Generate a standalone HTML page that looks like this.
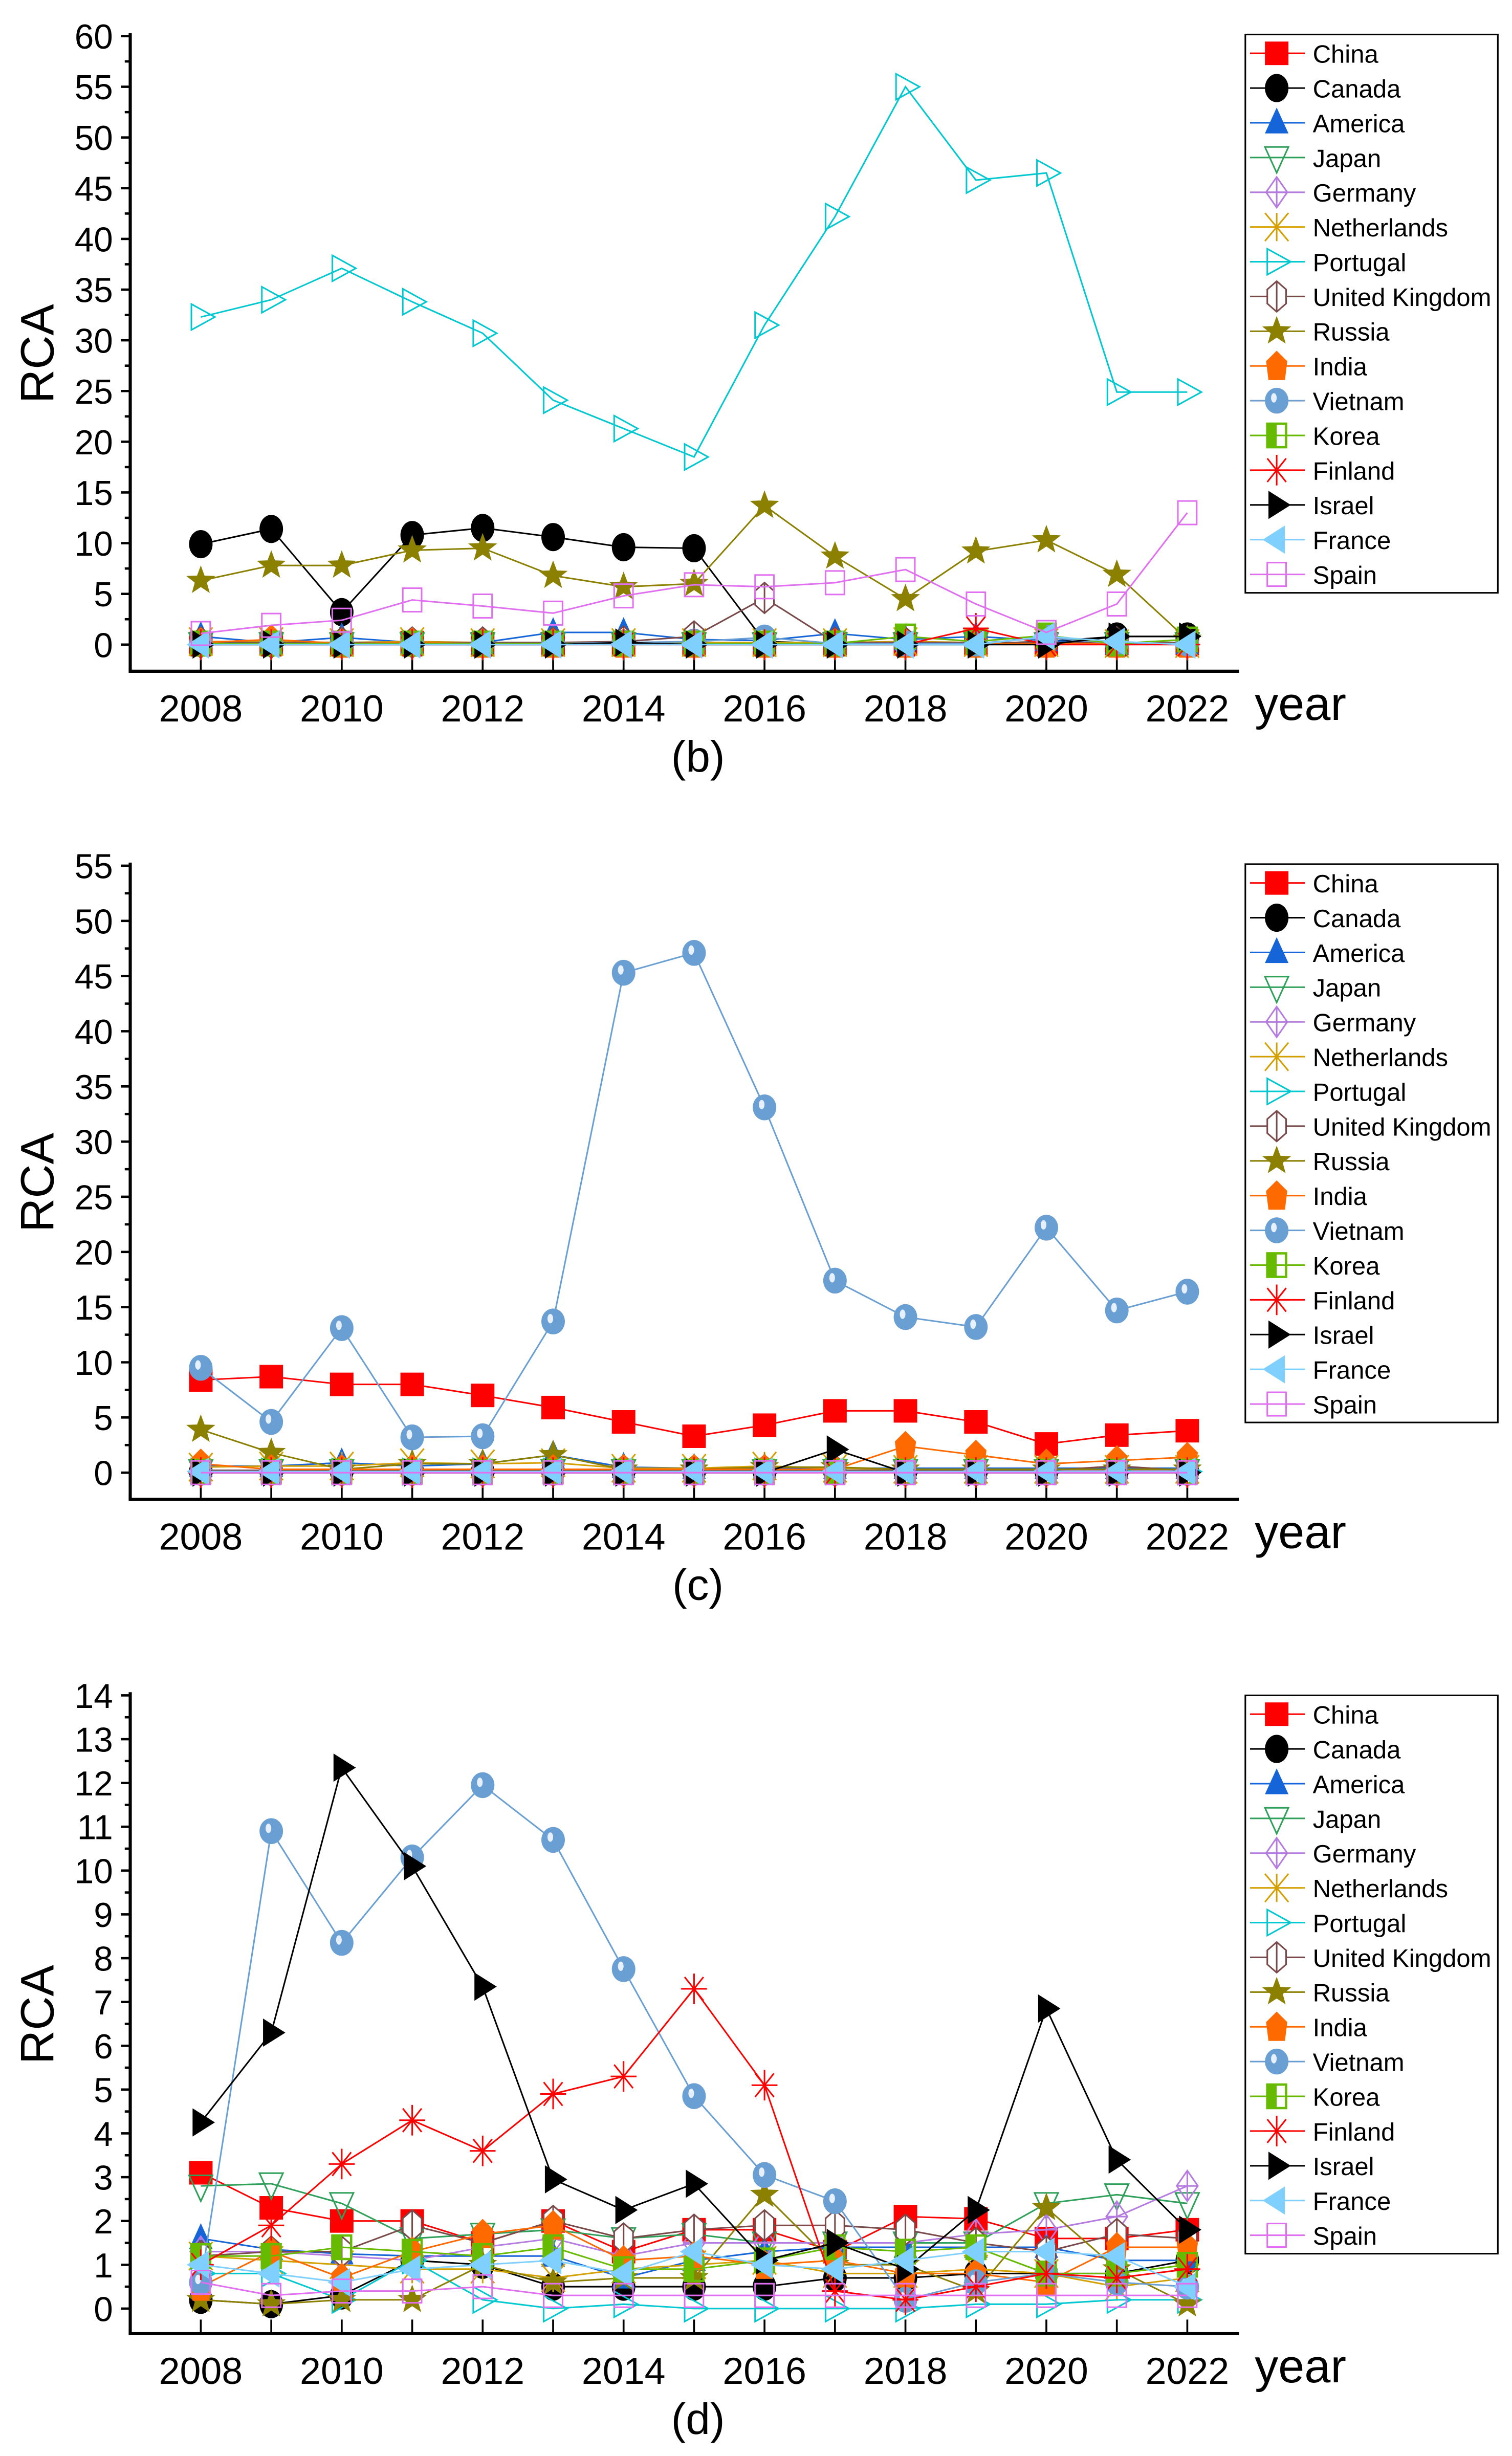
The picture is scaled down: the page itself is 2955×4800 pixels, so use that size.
<!DOCTYPE html>
<html><head><meta charset="utf-8"><style>
html,body{margin:0;padding:0;background:#fff}
svg{display:block}
text{font-family:"Liberation Sans",sans-serif}
</style></head><body>
<svg id="chart" xmlns="http://www.w3.org/2000/svg" width="2955" height="4800" viewBox="0 0 964 1566"></svg>
<script>
const years=[2008,2009,2010,2011,2012,2013,2014,2015,2016,2017,2018,2019,2020,2021,2022];
const countries=["China","Canada","America","Japan","Germany","Netherlands","Portugal","United Kingdom","Russia","India","Vietnam","Korea","Finland","Israel","France","Spain"];
// Panel (b)
const bChina=[0.1,0.1,0.1,0.2,0.1,0.1,0.1,0.1,0.1,0.1,0.1,0.1,0.1,0.1,0.1];
const bCanada=[9.9,11.4,3.2,10.8,11.5,10.6,9.6,9.5,0.3,0.1,0.1,0.1,0.3,0.8,0.8];
const bAmerica=[0.8,0.2,0.7,0.2,0.2,1.2,1.2,0.5,0.4,1.1,0.5,0.8,0.4,0.1,0.1];
const bJapan=[0.1,0.1,0.1,0.1,0.1,0.1,0.1,0.1,0.1,0.1,0.1,0.1,0.1,0.1,0.1];
const bGermany=[0.2,0.2,0.2,0.2,0.2,0.2,0.2,0.2,0.2,0.2,0.2,0.2,0.2,0.2,0.2];
const bNetherlands=[0.3,0.3,0.2,0.3,0.2,0.2,0.2,0.2,0.2,0.2,0.3,0.2,0.2,0.1,0.1];
const bPortugal=[32.3,34.0,37.1,33.8,30.7,24.1,21.3,18.5,31.5,42.2,55.0,45.8,46.5,24.9,24.9];
const bUK=[0.2,0.2,0.2,0.2,0.2,0.2,0.3,0.8,4.6,0.2,0.2,0.2,0.2,0.2,0.2];
const bRussia=[6.3,7.8,7.8,9.3,9.5,6.8,5.7,6.0,13.7,8.7,4.5,9.2,10.3,6.9,0.5];
const bIndia=[0.2,0.5,0.1,0.2,0.1,0.1,0.1,0.1,0.1,0.1,0.1,0.1,0.1,0.1,0.1];
const bVietnam=[0.1,0.1,0.1,0.1,0.1,0.1,0.2,0.3,0.7,0.1,0.1,0.1,0.7,0.1,0.1];
const bKorea=[0.1,0.1,0.1,0.1,0.1,0.1,0.1,0.1,0.1,0.1,0.8,0.3,0.9,0.1,0.5];
const bFinland=[0.0,0.0,0.0,0.0,0.0,0.0,0.0,0.0,0.0,0.0,0.0,1.6,0.0,0.0,0.0];
const bIsrael=[0.0,0.0,0.0,0.0,0.0,0.0,0.2,0.0,0.0,0.0,0.0,0.0,0.0,0.8,0.8];
const bFrance=[0.0,0.0,0.0,0.0,0.0,0.0,0.0,0.0,0.0,0.0,0.0,0.0,0.8,0.3,0.0];
const bSpain=[1.1,1.9,2.4,4.4,3.8,3.1,4.8,5.9,5.7,6.1,7.4,4.0,1.2,4.0,13.0];
// Panel (c)
const cChina=[8.4,8.7,8.0,8.0,7.0,5.9,4.6,3.3,4.3,5.6,5.6,4.6,2.6,3.4,3.8];
const cCanada=[0.1,0.1,0.1,0.1,0.1,0.1,0.1,0.1,0.1,0.1,0.1,0.1,0.1,0.1,0.1];
const cAmerica=[0.6,0.6,0.9,0.6,0.8,1.6,0.5,0.4,0.4,0.4,0.4,0.4,0.4,0.4,0.4];
const cJapan=[0.2,0.2,0.2,0.2,0.2,0.2,0.2,0.2,0.2,0.2,0.2,0.2,0.2,0.2,0.2];
const cGermany=[0.2,0.2,0.2,0.2,0.2,0.2,0.2,0.2,0.2,0.2,0.2,0.2,0.2,0.2,0.2];
const cNetherlands=[0.5,0.6,0.6,0.9,0.8,0.9,0.4,0.4,0.6,0.4,0.3,0.3,0.3,0.3,0.3];
const cPortugal=[0.1,0.1,0.1,0.1,0.1,0.1,0.1,0.1,0.1,0.1,0.1,0.1,0.1,0.1,0.1];
const cUK=[0.2,0.2,0.2,0.2,0.2,0.2,0.2,0.2,0.2,0.2,0.2,0.2,0.2,0.6,0.2];
const cRussia=[3.9,1.8,0.3,0.8,0.8,1.6,0.3,0.3,0.5,0.5,0.3,0.3,0.3,0.3,0.3];
const cIndia=[0.8,0.3,0.3,0.3,0.3,0.3,0.3,0.3,0.3,0.3,2.4,1.6,0.8,1.1,1.4];
const cVietnam=[9.5,4.6,13.1,3.2,3.3,13.7,45.3,47.1,33.1,17.4,14.1,13.2,22.2,14.7,16.4];
const cKorea=[0.1,0.1,0.1,0.1,0.1,0.1,0.1,0.1,0.1,0.1,0.1,0.1,0.1,0.1,0.1];
const cFinland=[0.0,0.0,0.0,0.0,0.0,0.0,0.0,0.0,0.0,0.0,0.0,0.0,0.0,0.0,0.0];
const cIsrael=[0.0,0.0,0.0,0.0,0.0,0.0,0.0,0.0,0.0,2.1,0.0,0.0,0.0,0.0,0.0];
const cFrance=[0.1,0.1,0.1,0.1,0.1,0.1,0.1,0.1,0.1,0.1,0.1,0.1,0.1,0.1,0.1];
const cSpain=[0.0,0.0,0.0,0.0,0.0,0.0,0.0,0.0,0.0,0.0,0.0,0.0,0.0,0.0,0.0];
// Panel (d)
const dChina=[3.1,2.3,2.0,2.0,1.5,2.0,1.3,1.8,1.8,1.3,2.1,2.05,1.6,1.6,1.8];
const dCanada=[0.2,0.1,0.3,1.1,1.0,0.5,0.5,0.5,0.5,0.7,0.7,0.8,0.8,0.8,1.1];
const dAmerica=[1.6,1.35,1.25,1.2,1.2,1.2,0.7,1.1,1.3,1.4,1.4,1.4,1.4,1.1,1.1];
const dJapan=[2.8,2.85,2.4,1.6,1.7,1.8,1.6,1.7,1.5,1.5,1.5,1.5,2.4,2.6,2.4];
const dGermany=[1.3,1.3,1.2,1.1,1.4,1.6,1.2,1.5,1.5,1.5,1.5,1.7,1.8,2.1,2.8];
const dNetherlands=[1.2,1.1,1.0,0.9,0.9,0.7,0.9,1.0,1.1,0.8,0.8,0.9,0.8,0.5,0.7];
const dPortugal=[0.8,0.8,0.2,1.1,0.2,0.0,0.1,0.0,0.0,0.0,0.0,0.1,0.1,0.2,0.2];
const dUK=[1.2,1.3,1.3,1.9,1.5,2.0,1.6,1.8,1.9,1.9,1.8,1.5,1.3,1.7,1.6];
const dRussia=[0.2,0.1,0.2,0.2,1.0,0.6,0.7,0.7,2.6,1.0,1.0,0.4,2.3,0.9,0.1];
const dIndia=[0.5,1.3,0.7,1.3,1.7,1.9,1.1,1.2,1.0,1.1,0.8,0.8,0.6,1.4,1.4];
const dVietnam=[0.6,10.9,8.35,10.3,11.95,10.7,7.75,4.85,3.05,2.45,0.2,0.6,0.8,0.6,0.5];
const dKorea=[1.2,1.2,1.4,1.3,1.2,1.4,0.9,0.9,1.1,1.4,1.3,1.4,0.8,0.8,1.0];
const dFinland=[1.0,1.9,3.3,4.3,3.6,4.9,5.3,7.3,5.1,0.4,0.2,0.5,0.8,0.7,0.9];
const dIsrael=[4.25,6.3,12.35,10.1,7.35,2.95,2.25,2.85,1.1,1.5,0.9,2.25,6.85,3.4,1.8];
const dFrance=[1.0,0.8,0.6,0.9,1.0,1.1,0.8,1.3,1.0,0.9,1.1,1.3,1.3,1.2,0.5];
const dSpain=[0.6,0.3,0.4,0.4,0.5,0.3,0.3,0.3,0.3,0.3,0.3,0.3,0.3,0.3,0.3];
const bTicks=[0,5,10,15,20,25,30,35,40,45,50,55,60];
const cTicks=[0,5,10,15,20,25,30,35,40,45,50,55];
const dTicks=[0,1,2,3,4,5,6,7,8,9,10,11,12,13,14];
const xTickLabels=[2008,2010,2012,2014,2016,2018,2020,2022];

const colors=["#ff0000","#000000","#1565d8","#2ea05a","#b57be0","#d4a000","#00c8d0","#7a4a4a","#8b8000","#ff6a00","#6a9fd4","#66bb00","#ff0000","#000000","#80d0ff","#e070f0"];
const NS="http://www.w3.org/2000/svg";
const svg=document.getElementById('chart');
function mk(tag,attrs,parent){const e=document.createElementNS(NS,tag);for(const k in attrs)e.setAttribute(k,attrs[k]);(parent||svg).appendChild(e);return e;}

function marker(g,i,x,y,s){
  const c=colors[i];let e;
  switch(i){
    case 0:e=mk('rect',{x:x-s*0.5,y:y-s*0.5,width:s,height:s,fill:c},g);break;
    case 1:e=mk('ellipse',{cx:x,cy:y,rx:s*0.5,ry:s*0.6,fill:c},g);break;
    case 2:e=mk('polygon',{points:`${x},${y-s*0.65} ${x-s*0.5},${y+s*0.45} ${x+s*0.5},${y+s*0.45}`,fill:c},g);break;
    case 3:e=mk('polygon',{points:`${x},${y+s*0.65} ${x-s*0.5},${y-s*0.45} ${x+s*0.5},${y-s*0.45}`,fill:'none',stroke:c,'stroke-width':1},g);break;
    case 4:e=mk('path',{d:`M${x} ${y-s*0.65}L${x+s*0.45} ${y}L${x} ${y+s*0.65}L${x-s*0.45} ${y}Z M${x} ${y-s*0.65}V${y+s*0.65} M${x-s*0.45} ${y}H${x+s*0.45}`,fill:'none',stroke:c,'stroke-width':1},g);break;
    case 5:e=mk('path',{d:`M${x-s*0.5} ${y-s*0.6}L${x+s*0.5} ${y+s*0.6}M${x+s*0.5} ${y-s*0.6}L${x-s*0.5} ${y+s*0.6}M${x} ${y-s*0.6}V${y+s*0.6}`,fill:'none',stroke:c,'stroke-width':1},g);break;
    case 6:e=mk('polygon',{points:`${x+s*0.6},${y} ${x-s*0.4},${y-s*0.55} ${x-s*0.4},${y+s*0.55}`,fill:'none',stroke:c,'stroke-width':1},g);break;
    case 7:e=mk('path',{d:`M${x} ${y-s*0.65}L${x+s*0.4} ${y-s*0.3}V${y+s*0.3}L${x} ${y+s*0.65}L${x-s*0.4} ${y+s*0.3}V${y-s*0.3}Z M${x} ${y-s*0.65}V${y+s*0.65}`,fill:'#fff',stroke:c,'stroke-width':1},g);break;
    case 8:{let p=[];for(let k=0;k<10;k++){const r=k%2?s*0.25:s*0.6;const a=-Math.PI/2+k*Math.PI/5;p.push((x+r*Math.cos(a)).toFixed(2)+','+(y+r*Math.sin(a)).toFixed(2));}
      e=mk('polygon',{points:p.join(' '),fill:c,stroke:c,'stroke-width':0.5},g);break;}
    case 9:e=mk('polygon',{points:`${x},${y-s*0.65} ${x+s*0.45},${y-s*0.2} ${x+s*0.35},${y+s*0.6} ${x-s*0.35},${y+s*0.6} ${x-s*0.45},${y-s*0.2}`,fill:c},g);break;
    case 10:e=mk('ellipse',{cx:x,cy:y,rx:s*0.5,ry:s*0.55,fill:c},g);mk('ellipse',{cx:x-s*0.12,cy:y-s*0.12,rx:s*0.12,ry:s*0.2,fill:'#e6f0ff'},g);break;
    case 11:e=mk('rect',{x:x-s*0.4,y:y-s*0.5,width:s*0.8,height:s,fill:'none',stroke:c,'stroke-width':1.5},g);mk('rect',{x:x-s*0.4,y:y-s*0.5,width:s*0.4,height:s,fill:c},g);break;
    case 12:e=mk('path',{d:`M${x-s*0.55} ${y}H${x+s*0.55}M${x} ${y-s*0.65}V${y+s*0.65}M${x-s*0.4} ${y-s*0.5}L${x+s*0.4} ${y+s*0.5}M${x+s*0.4} ${y-s*0.5}L${x-s*0.4} ${y+s*0.5}`,fill:'none',stroke:c,'stroke-width':1},g);break;
    case 13:e=mk('polygon',{points:`${x+s*0.6},${y} ${x-s*0.35},${y-s*0.6} ${x-s*0.35},${y+s*0.6}`,fill:c},g);break;
    case 14:e=mk('polygon',{points:`${x-s*0.6},${y} ${x+s*0.35},${y-s*0.6} ${x+s*0.35},${y+s*0.6}`,fill:c},g);break;
    case 15:e=mk('rect',{x:x-s*0.4,y:y-s*0.5,width:s*0.8,height:s,fill:'none',stroke:c,'stroke-width':1},g);break;
  }
  return e;
}

function panel(key,label,series,ticks,ymax,yTop,yZero,axisY,legTop){
  const X0=83,XR=790,x2008=128,x2022=757;
  const xs=v=>x2008+(v-2008)*(x2022-x2008)/14;
  const ys=v=>yZero-v*(yZero-yTop)/ymax;
  const g=mk('g',{});
  
  
  const ya=mk('line',{x1:X0,y1:yTop-2,x2:X0,y2:axisY,stroke:'#000','stroke-width':2},g);
  
  
  const xa=mk('line',{x1:X0-1,y1:axisY,x2:XR,y2:axisY,stroke:'#000','stroke-width':2},g);
  
  
  const step=ticks[1]-ticks[0];
  ticks.forEach((t,i)=>{
    const y=ys(t);
    mk('line',{x1:X0-6,y1:y,x2:X0,y2:y,stroke:'#000','stroke-width':1.5},g);
    if(i<ticks.length-1)mk('line',{x1:X0-3.5,y1:ys(t+step/2),x2:X0,y2:ys(t+step/2),stroke:'#000','stroke-width':1.5},g);
    const tx=mk('text',{x:72,y:y+8,'text-anchor':'end','font-size':22},g);tx.textContent=t;
    
    
  });
  years.forEach(yr=>{mk('line',{x1:xs(yr),y1:axisY,x2:xs(yr),y2:axisY-9,stroke:'#000','stroke-width':1.2},g);});
  xTickLabels.forEach(yr=>{const t=mk('text',{x:xs(yr),y:axisY+32,'text-anchor':'middle','font-size':24},g);t.textContent=yr;
    
    });
  const yl=mk('text',{x:800,y:axisY+31,'font-size':30},g);yl.textContent='year';
  
  
  const rl=mk('text',{x:0,y:0,'font-size':30,'text-anchor':'middle',transform:`translate(34,${(yTop+axisY)/2}) rotate(-90)`},g);rl.textContent='RCA';
  
  
  const pl=mk('text',{x:445,y:axisY+64,'font-size':28,'text-anchor':'middle'},g);pl.textContent=label;
  
  
  series.forEach((vals,i)=>{
    const sg=mk('g',{},g);
    
    
    mk('polyline',{points:vals.map((v,j)=>xs(years[j]).toFixed(2)+','+ys(v).toFixed(2)).join(' '),fill:'none',stroke:colors[i],'stroke-width':1},sg);
    vals.forEach((v,j)=>{const m=marker(sg,i,xs(years[j]),ys(v),15);
      
      });
  });
  const lg=mk('g',{},g);
  
  
  mk('rect',{x:794,y:legTop,width:161,height:356,fill:'#fff',stroke:'#000','stroke-width':1},lg);
  countries.forEach((c,i)=>{
    const y=legTop+12+i*22.15;
    const eg=mk('g',{},lg);
    
    
    mk('line',{x1:797,y1:y,x2:832,y2:y,stroke:colors[i],'stroke-width':1},eg);
    marker(eg,i,814,y,15);
    const t=mk('text',{x:837,y:y+6,'font-size':16},eg);t.textContent=c;
  });
}
panel('b','(b)',[bChina,bCanada,bAmerica,bJapan,bGermany,bNetherlands,bPortugal,bUK,bRussia,bIndia,bVietnam,bKorea,bFinland,bIsrael,bFrance,bSpain],bTicks,60,23,411,428,22);
panel('c','(c)',[cChina,cCanada,cAmerica,cJapan,cGermany,cNetherlands,cPortugal,cUK,cRussia,cIndia,cVietnam,cKorea,cFinland,cIsrael,cFrance,cSpain],cTicks,55,552,939,956,551);
panel('d','(d)',[dChina,dCanada,dAmerica,dJapan,dGermany,dNetherlands,dPortugal,dUK,dRussia,dIndia,dVietnam,dKorea,dFinland,dIsrael,dFrance,dSpain],dTicks,14,1081,1472,1488,1081);
</script>
</body></html>
